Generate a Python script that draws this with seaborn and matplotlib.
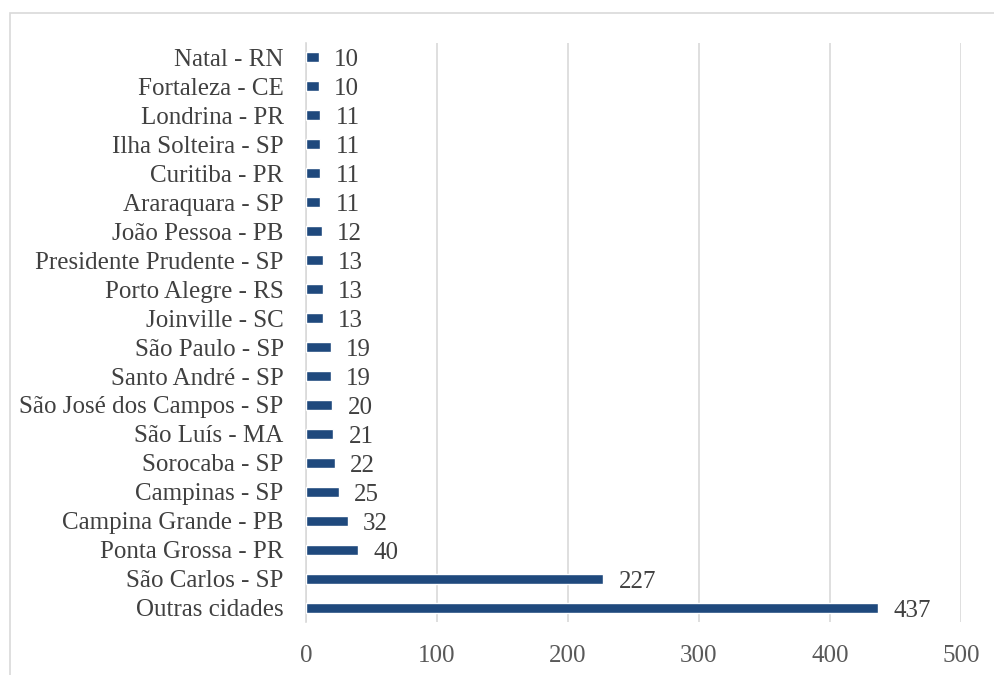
import matplotlib
matplotlib.use("Agg")
import matplotlib.pyplot as plt
import seaborn as sns
import pandas as pd
from matplotlib.patches import Rectangle

cidades = [
    "Natal - RN", "Fortaleza - CE", "Londrina - PR", "Ilha Solteira - SP",
    "Curitiba - PR", "Araraquara - SP", "João Pessoa - PB",
    "Presidente Prudente - SP", "Porto Alegre - RS", "Joinville - SC",
    "São Paulo - SP", "Santo André - SP", "São José dos Campos - SP",
    "São Luís - MA", "Sorocaba - SP", "Campinas - SP", "Campina Grande - PB",
    "Ponta Grossa - PR", "São Carlos - SP", "Outras cidades",
]
quantidade = [10, 10, 11, 11, 11, 11, 12, 13, 13, 13,
              19, 19, 20, 21, 22, 25, 32, 40, 227, 437]
x_ticks = [0, 100, 200, 300, 400, 500]

df = pd.DataFrame({"cidade": cidades, "qtd": quantidade})

sns.set_style("white")
plt.rcParams["font.family"] = ["Liberation Serif", "DejaVu Serif"]

fig = plt.figure(figsize=(9.95, 6.75), dpi=100)
ax = fig.add_axes([0.3075, 0.0778, 0.6583, 0.8592])

# moldura do gráfico (cortada na direita e embaixo)
fig.patches.append(Rectangle((10 / 995, -0.05), 1.2, 1 - 13 / 675 + 0.05,
                             transform=fig.transFigure, fill=False,
                             edgecolor="#D9D9D9", linewidth=1.2))

sns.barplot(data=df, x="qtd", y="cidade", color="#1F497D", width=0.35,
            saturation=1, ax=ax, zorder=3)

labels = ax.bar_label(ax.containers[0], padding=11, fontsize=18, color="#404040")
for t in labels:
    t.xyann = (11, -2)

ax.set_xlim(0, 500)
ax.set_xticks(x_ticks)
ax.set_ylim(19.5, -0.5)
ax.xaxis.grid(True, color="#D9D9D9", linewidth=1.2, zorder=0)
ax.set_xlabel("")
ax.set_ylabel("")
for s in ["top", "right", "bottom"]:
    ax.spines[s].set_visible(False)
ax.spines["left"].set_color("#D9D9D9")
ax.spines["left"].set_linewidth(1.2)
ax.tick_params(axis="both", length=0)
ax.tick_params(axis="y", labelsize=18, labelcolor="#404040", pad=16)
ax.tick_params(axis="x", labelsize=18, labelcolor="#595959", pad=16)

plt.savefig("out.png", dpi=100)
